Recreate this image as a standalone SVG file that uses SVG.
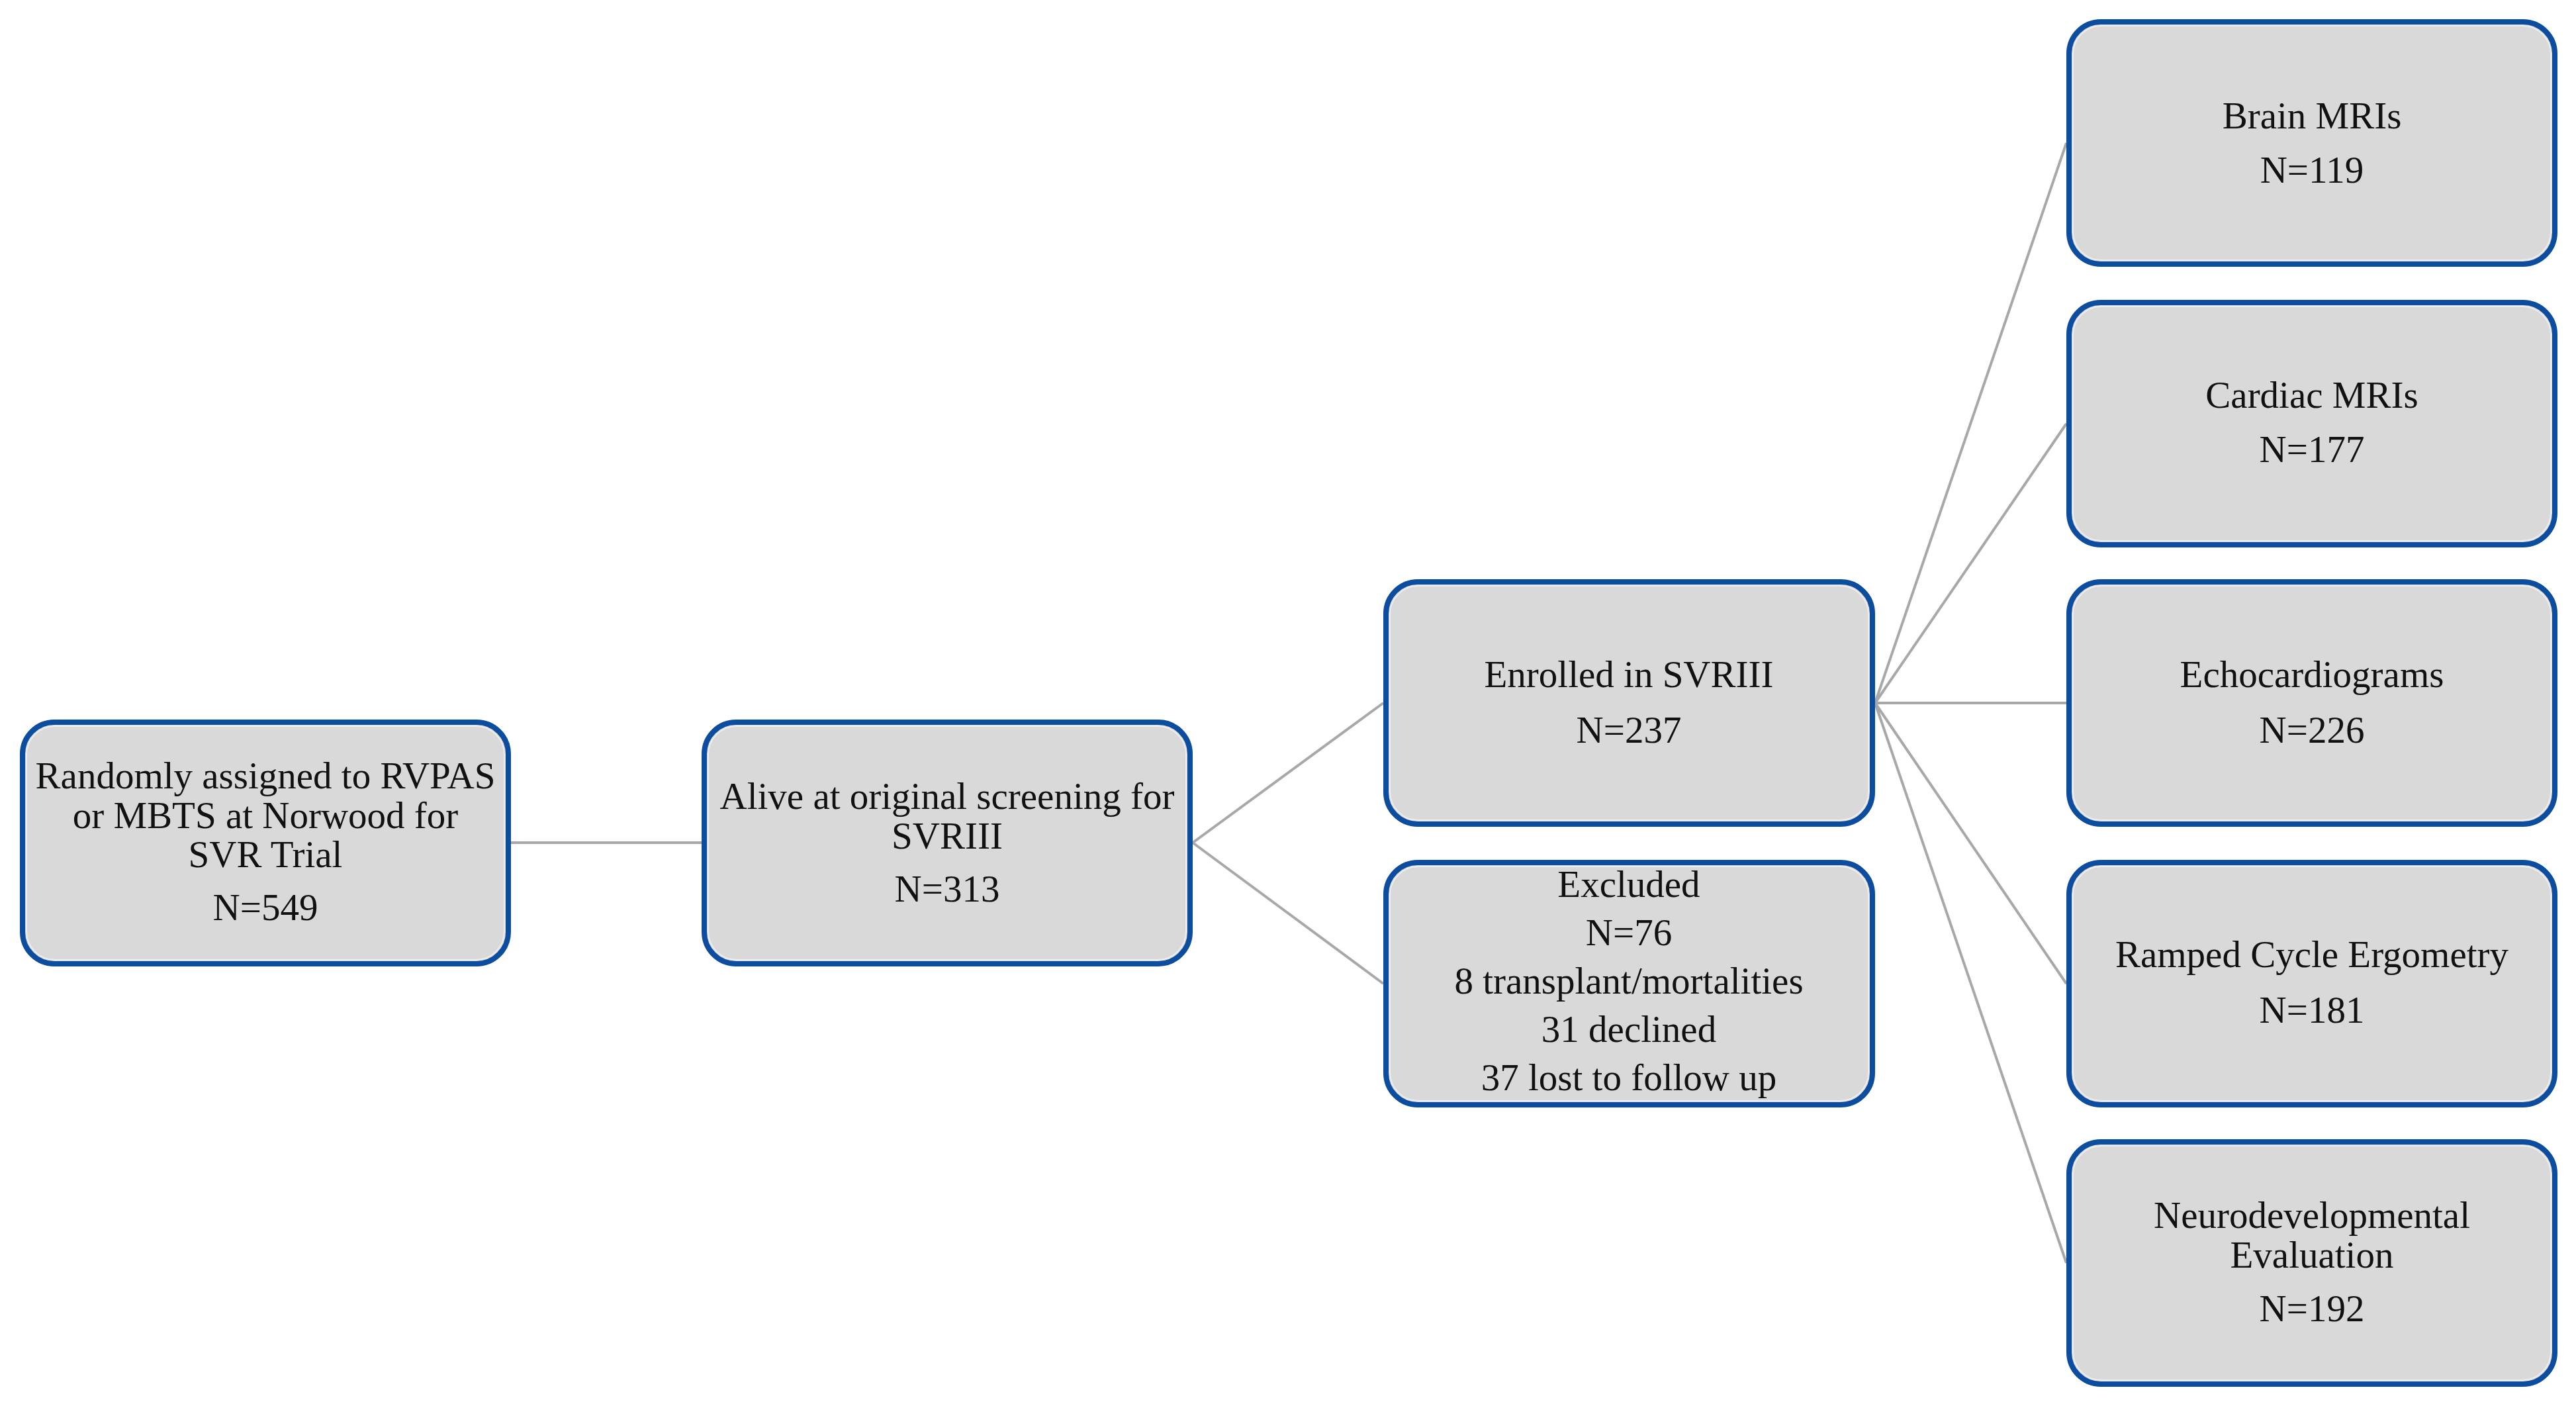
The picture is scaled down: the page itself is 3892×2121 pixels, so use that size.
<svg xmlns="http://www.w3.org/2000/svg" width="3892" height="2121" viewBox="0 0 3892 2121">
<style>
.box{fill:#D9D9D9;stroke:#0C4DA0;stroke-width:8}
.inner{fill:none;stroke:#EEEEEE;stroke-width:2}
.lbl{font-family:"Liberation Serif","Times New Roman",serif;font-size:57px;fill:#111111;text-anchor:middle}
.conn line{stroke:#A8A8A8;stroke-width:4}
</style>
<rect width="3892" height="2121" fill="#FFFFFF"/>
<g class="conn" id="connectors">
<line x1="772" y1="1273" x2="1060" y2="1273"/>
<line x1="1802" y1="1273" x2="2090" y2="1062"/>
<line x1="1802" y1="1273" x2="2090" y2="1486"/>
<line x1="2833" y1="1062" x2="3122" y2="216"/>
<line x1="2833" y1="1062" x2="3122" y2="640"/>
<line x1="2833" y1="1062" x2="3122" y2="1062"/>
<line x1="2833" y1="1062" x2="3122" y2="1486"/>
<line x1="2833" y1="1062" x2="3122" y2="1908"/>
</g>
<g id="randomized">
<rect class="box" x="34" y="1091" width="734" height="365" rx="48"/>
<rect class="inner" x="40" y="1097" width="722" height="353" rx="43"/>
<text class="lbl" x="401" y="1191">Randomly assigned to RVPAS</text>
<text class="lbl" x="401" y="1251">or MBTS at Norwood for</text>
<text class="lbl" x="401" y="1310">SVR Trial</text>
<text class="lbl" x="401" y="1390">N=549</text>
</g>
<g id="alive">
<rect class="box" x="1064" y="1091" width="734" height="365" rx="48"/>
<rect class="inner" x="1070" y="1097" width="722" height="353" rx="43"/>
<text class="lbl" x="1431" y="1222">Alive at original screening for</text>
<text class="lbl" x="1431" y="1282">SVRIII</text>
<text class="lbl" x="1431" y="1362">N=313</text>
</g>
<g id="enrolled">
<rect class="box" x="2094" y="879" width="735" height="366" rx="48"/>
<rect class="inner" x="2100" y="885" width="723" height="354" rx="43"/>
<text class="lbl" x="2461" y="1038">Enrolled in SVRIII</text>
<text class="lbl" x="2461" y="1122">N=237</text>
</g>
<g id="excluded">
<rect class="box" x="2094" y="1303" width="735" height="366" rx="48"/>
<rect class="inner" x="2100" y="1309" width="723" height="354" rx="43"/>
<text class="lbl" x="2461" y="1355">Excluded</text>
<text class="lbl" x="2461" y="1428">N=76</text>
<text class="lbl" x="2461" y="1501">8 transplant/mortalities</text>
<text class="lbl" x="2461" y="1574">31 declined</text>
<text class="lbl" x="2461" y="1647">37 lost to follow up</text>
</g>
<g id="brain">
<rect class="box" x="3126" y="33" width="734" height="366" rx="48"/>
<rect class="inner" x="3132" y="39" width="722" height="354" rx="43"/>
<text class="lbl" x="3493" y="194">Brain MRIs</text>
<text class="lbl" x="3493" y="276">N=119</text>
</g>
<g id="cardiac">
<rect class="box" x="3126" y="457" width="734" height="366" rx="48"/>
<rect class="inner" x="3132" y="463" width="722" height="354" rx="43"/>
<text class="lbl" x="3493" y="616">Cardiac MRIs</text>
<text class="lbl" x="3493" y="698">N=177</text>
</g>
<g id="echo">
<rect class="box" x="3126" y="879" width="734" height="366" rx="48"/>
<rect class="inner" x="3132" y="885" width="722" height="354" rx="43"/>
<text class="lbl" x="3493" y="1038">Echocardiograms</text>
<text class="lbl" x="3493" y="1122">N=226</text>
</g>
<g id="ergometry">
<rect class="box" x="3126" y="1303" width="734" height="366" rx="48"/>
<rect class="inner" x="3132" y="1309" width="722" height="354" rx="43"/>
<text class="lbl" x="3493" y="1461">Ramped Cycle Ergometry</text>
<text class="lbl" x="3493" y="1545">N=181</text>
</g>
<g id="neuro">
<rect class="box" x="3126" y="1725" width="734" height="366" rx="48"/>
<rect class="inner" x="3132" y="1731" width="722" height="354" rx="43"/>
<text class="lbl" x="3493" y="1855">Neurodevelopmental</text>
<text class="lbl" x="3493" y="1915">Evaluation</text>
<text class="lbl" x="3493" y="1996">N=192</text>
</g>
</svg>
